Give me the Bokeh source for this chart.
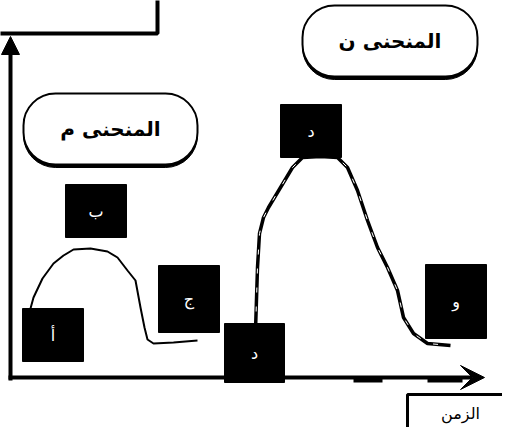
from bokeh.plotting import figure
from bokeh.models import Range1d, Arrow, NormalHead, VeeHead, ColumnDataSource
from bokeh.core.properties import value
from bokeh.embed import file_html
from bokeh.resources import INLINE

# ---- data (page-pixel coordinates) ----
curve_m_x = [30, 33, 42, 53, 63, 73, 90, 107, 117, 127, 135, 140, 144, 147, 153, 173, 197]
curve_m_y = [308, 297, 278, 263, 255, 249, 248, 251, 257, 270, 280, 307, 327, 339, 343, 342, 340]

curve_n_x = [255, 257, 259, 263, 268, 280, 292, 302, 320, 337, 347, 357, 367, 377, 387, 397, 403, 413, 427, 450]
curve_n_y = [330, 267, 233, 217, 207, 187, 167, 157, 156, 157, 167, 190, 220, 247, 267, 290, 317, 333, 343, 345]

point_labels = ["ب", "أ", "ج", "د", "د", "و"]
point_left = [65, 22, 158, 224, 280, 425]
point_right = [126, 83, 219, 284, 341, 486]
point_top = [184, 308, 265, 323, 104, 264]
point_bottom = [237, 361, 332, 382, 157, 338]

pill_labels = ["المنحنى م", "المنحنى ن"]
pill_left = [23, 302]
pill_right = [197, 477]
pill_top = [93, 5]
pill_bottom = [164, 76]

x_label = "الزمن"

p = figure(width=502, height=427, x_range=Range1d(0, 502), y_range=Range1d(427, 0),
           output_backend="svg", toolbar_location=None, min_border=0)
p.axis.visible = False
p.grid.visible = False
p.outline_line_color = None
p.background_fill_color = "white"

# top-left (clipped) label box
p.quad(left=[-10], right=[157], top=[-10], bottom=[33], fill_color="white",
       line_color="black", line_width=4)

# axes with arrow heads
p.add_layout(Arrow(end=NormalHead(size=18, fill_color="black", line_color="black"),
                   x_start=10, y_start=380, x_end=10, y_end=36,
                   line_width=4, line_color="black"))
p.add_layout(Arrow(end=VeeHead(size=24, fill_color="black", line_color="black"),
                   x_start=8, y_start=377, x_end=484, y_end=377,
                   line_width=4, line_color="black"))
# small marks on the time axis
p.quad(left=[353, 427], right=[382, 462], top=[376, 376], bottom=[382, 382],
       fill_color="black", line_color=None)

# curves
p.line(curve_m_x, curve_m_y, line_color="black", line_width=2)
p.line(curve_n_x, curve_n_y, line_color="black", line_width=3.5)
p.line(curve_n_x, curve_n_y, line_color="white", line_width=1, line_dash="5 14")

# pills with shadow
pill_src = ColumnDataSource(dict(left=pill_left, right=pill_right, top=pill_top,
                                 bottom=pill_bottom,
                                 shadow_bottom=[b + 3 for b in pill_bottom],
                                 shadow_top=[t + 3 for t in pill_top],
                                 cx=[(l + r) / 2 for l, r in zip(pill_left, pill_right)],
                                 cy=[(t + b) / 2 for t, b in zip(pill_top, pill_bottom)],
                                 label=pill_labels))
p.quad(left="left", right="right", top="shadow_top", bottom="shadow_bottom", source=pill_src,
       fill_color="black", line_color="black", border_radius=32)
p.quad(left="left", right="right", top="top", bottom="bottom", source=pill_src,
       fill_color="white", line_color="black", line_width=2, border_radius=32)
p.text(x="cx", y="cy", text="label", source=pill_src, text_align="center",
       text_baseline="middle", text_font=value("DejaVu Sans"), text_font_style="bold",
       text_font_size="20px", text_color="black")

# black point boxes
pt_src = ColumnDataSource(dict(left=point_left, right=point_right, top=point_top,
                               bottom=point_bottom,
                               cx=[(l + r) / 2 for l, r in zip(point_left, point_right)],
                               cy=[(t + b) / 2 for t, b in zip(point_top, point_bottom)],
                               label=point_labels))
p.quad(left="left", right="right", top="top", bottom="bottom", source=pt_src,
       fill_color="black", line_color="black")
p.text(x="cx", y="cy", text="label", source=pt_src, text_align="center",
       text_baseline="middle", text_font=value("DejaVu Sans"),
       text_font_size="16px", text_color="white")

# time label box
p.quad(left=[407], right=[530], top=[394], bottom=[460], fill_color="white",
       line_color="black", line_width=3)
p.text(x=[460], y=[413], text=[x_label], text_align="center", text_baseline="middle",
       text_font=value("DejaVu Sans"), text_font_size="16px", text_color="black")

open("out.html", "w").write(file_html(p, INLINE))
